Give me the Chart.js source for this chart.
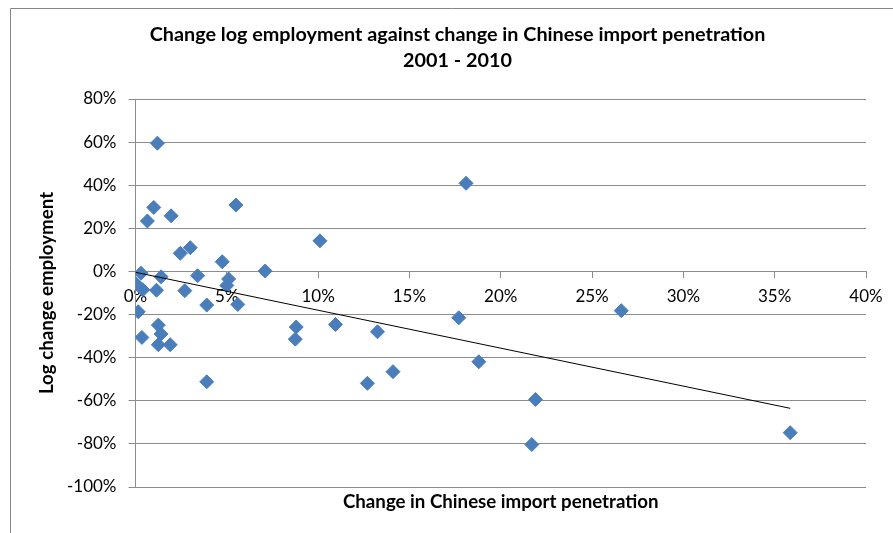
<!DOCTYPE html>
<html>
<head>
<meta charset="utf-8">
<script src="https://cdn.jsdelivr.net/npm/chart.js@4/dist/chart.umd.min.js"></script>
<style>
  html, body { margin: 0; padding: 0; background: #ffffff; }
  #wrap { width: 893px; height: 533px; position: relative; }
</style>
</head>
<body>
<div id="wrap"><canvas id="chart" width="893" height="533"></canvas></div>
<script>
// Change in Chinese import penetration 2001-2010 (percentage points)
const importChange = [
  1.2, 1.0, 0.65, 1.95, 5.5, 18.1, 10.1, 2.45, 3.0, 4.75,
  7.1, 0.3, 0.0, 0.4, 1.4, 1.15, 3.4, 5.1, 5.0, 2.7,
  3.9, 5.6, 0.15, 0.35, 1.25, 1.4, 1.25, 1.9, 3.9, 8.8,
  8.75, 10.95, 13.25, 12.7, 14.1, 17.7, 18.8, 21.9, 21.7, 26.6,
  35.85
];
// Log change in employment over the same period (%)
const employmentChange = [
  59.5, 29.7, 23.4, 25.8, 30.8, 40.9, 14.2, 8.4, 11.0, 4.5,
  0.2, -0.8, -5.5, -8.5, -2.5, -8.7, -2.0, -3.5, -6.5, -8.9,
  -15.6, -15.3, -18.7, -30.6, -24.9, -29.0, -34.0, -34.0, -51.2, -25.8,
  -31.4, -24.6, -28.0, -51.9, -46.5, -21.5, -41.9, -59.4, -80.3, -18.2,
  -74.8
];
// Linear trend line end points
const trendImport = [0, 35.85];
const trendEmployment = [-0.4, -63.5];

const titleLines = ['Change log employment against change in Chinese import penetration', '2001 - 2010'];
const xAxisTitle = 'Change in Chinese import penetration';
const yAxisTitle = 'Log change employment';

const FONT = 'Lato, "Open Sans", "DejaVu Sans", sans-serif';
const GRID = '#8c8c8c';

const scatterPoints = importChange.map((x, i) => ({ x, y: employmentChange[i] }));
const trendPoints = trendImport.map((x, i) => ({ x, y: trendEmployment[i] }));

// Outer frame, chart title and the horizontal axis title under the plot
const frameAndTitles = {
  id: 'frameAndTitles',
  beforeDraw(chart) {
    const ctx = chart.ctx;
    ctx.save();
    ctx.fillStyle = '#ffffff';
    ctx.fillRect(0, 0, chart.width, chart.height);
    ctx.strokeStyle = '#868686';
    ctx.lineWidth = 1;
    ctx.beginPath();
    ctx.moveTo(10.5, chart.height + 5);
    ctx.lineTo(10.5, 8.5);
    ctx.lineTo(chart.width + 5, 8.5);
    ctx.stroke();
    ctx.restore();
  },
  afterDraw(chart) {
    const ctx = chart.ctx;
    const area = chart.chartArea;
    ctx.save();
    ctx.fillStyle = '#000000';
    ctx.textAlign = 'center';
    ctx.textBaseline = 'middle';
    ctx.font = 'bold 19.8px ' + FONT;
    ctx.fillText(titleLines[0], 457.5, 35);
    ctx.fillText(titleLines[1], 457.5, 61);
    ctx.font = 'bold 18.7px ' + FONT;
    ctx.fillText(xAxisTitle, (area.left + area.right) / 2, 502);
    ctx.restore();
  }
};

new Chart(document.getElementById('chart'), {
  type: 'scatter',
  data: {
    datasets: [
      {
        label: 'Trend',
        type: 'line',
        data: trendPoints,
        borderColor: '#000000',
        borderWidth: 1,
        pointRadius: 0,
        fill: false,
        order: 0
      },
      {
        label: 'Industries',
        data: scatterPoints,
        pointStyle: 'rectRot',
        pointRadius: 7,
        pointHoverRadius: 7,
        backgroundColor: '#4a7ebb',
        borderColor: '#4a7ebb',
        borderWidth: 1,
        order: 1
      }
    ]
  },
  options: {
    responsive: false,
    animation: false,
    layout: { padding: { left: 10, right: 27, top: 99, bottom: 46 } },
    plugins: {
      legend: { display: false },
      tooltip: { enabled: false },
      title: { display: false }
    },
    scales: {
      x: {
        type: 'linear',
        position: { y: 0 },
        min: 0,
        max: 40,
        z: 1,
        border: { display: false },
        grid: { drawOnChartArea: false, drawTicks: true, tickLength: 7, color: GRID },
        ticks: {
          stepSize: 5,
          padding: 8,
          color: '#000000',
          font: { family: FONT, size: 17 },
          callback: v => v + '%'
        }
      },
      y: {
        type: 'linear',
        min: -100,
        max: 80,
        afterFit(scale) { scale.width = 125.5; },
        border: { display: true, color: GRID },
        grid: { color: GRID, tickLength: 7 },
        ticks: {
          stepSize: 20,
          padding: 12,
          color: '#000000',
          font: { family: FONT, size: 17 },
          callback: v => v + '%'
        },
        title: {
          display: true,
          text: yAxisTitle,
          color: '#000000',
          font: { family: FONT, size: 18.7, weight: 'bold' },
          padding: { top: 26, bottom: 0 }
        }
      }
    }
  },
  plugins: [frameAndTitles]
});
</script>
</body>
</html>
